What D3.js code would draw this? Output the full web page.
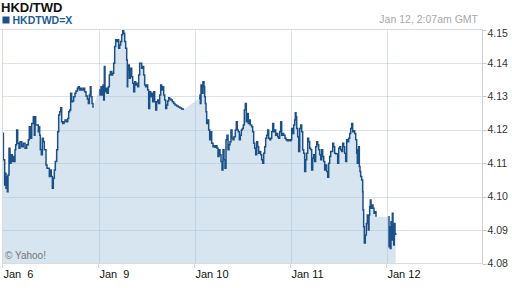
<!DOCTYPE html>
<html><head><meta charset="utf-8">
<script src="https://cdn.jsdelivr.net/npm/d3@7"></script>
<style>body{margin:0;background:#fff}svg{display:block;font-family:Arial,"Liberation Sans",sans-serif}</style>
</head><body><svg id="c" width="512" height="288"></svg>
<script>
// time axis: hours on a trading-day scale (Jan 6 = 0, Jan 9 = 24, Jan 10 = 48, Jan 11 = 72, Jan 12 = 96)
const hours = [
0,0.1,0.25,0.42,0.58,0.75,0.92,1.08,1.25,1.5,1.75,2,2.33,2.58,2.83,3,3.17,3.42,3.67,4,
4.25,4.67,5.08,5.5,5.92,6.33,6.58,6.92,7.17,7.58,7.83,8,8.17,8.42,8.83,9.08,9.17,9.33,9.58,9.83,
10.08,10.33,10.75,11,11.33,11.58,11.83,12.08,12.33,12.58,12.83,13.08,13.42,13.67,13.92,14.17,14.42,14.67,14.92,15.25,
15.5,15.92,16.17,16.42,16.67,16.92,17.17,17.42,17.67,18,18.25,18.58,18.83,19.08,19.33,19.67,20.08,20.42,20.75,21.08,
21.33,21.58,21.83,22,22.25,22.5,
23.25,
24,24.25,24.5,24.67,25,25.17,25.33,25.5,25.75,26,26.33,26.58,26.83,27.17,27.42,27.67,27.92,28.17,28.42,28.67,
28.92,29.17,29.42,29.67,29.92,30.17,30.42,30.67,30.92,31.08,31.17,31.33,31.58,31.83,32.17,32.42,32.67,32.92,33.17,33.42,
33.67,33.92,34.17,34.42,34.67,34.92,35.17,35.42,35.67,35.92,36.17,36.42,36.67,36.92,37.17,37.42,37.67,37.92,38.17,38.42,
38.67,38.92,39.17,39.42,39.67,39.92,40.17,40.42,40.67,40.92,41.17,41.42,41.67,42,42.33,42.67,43,43.42,43.83,44.25,
44.67,45.08,
47,
49,49.25,49.33,49.5,49.75,50,50.25,50.42,50.58,50.75,50.92,51.17,51.42,51.67,51.92,52.17,52.5,52.75,53,53.25,
53.5,53.75,54,54.25,54.5,54.75,55,55.25,55.5,55.75,56,56.25,56.5,56.75,57,57.25,57.5,57.75,58.08,58.33,
58.58,58.83,59.08,59.33,59.58,59.83,60.08,60.33,60.58,60.83,61.08,61.33,61.58,61.83,62.17,62.42,62.67,62.92,63.17,63.42,
63.67,63.92,64.17,64.42,64.67,64.92,65.17,65.42,65.67,65.92,66.17,66.42,66.67,66.92,67.17,67.42,67.67,67.92,68.17,68.42,
68.67,68.92,69.17,69.42,69.67,69.92,70.17,70.5,70.75,71.08,71.33,71.75,72,72.17,72.42,72.67,72.92,73.08,73.25,73.42,
73.67,73.92,74.17,74.42,74.67,74.92,75.17,75.42,75.67,75.92,76.17,76.42,76.67,76.92,77.17,77.42,77.67,77.92,78.17,78.42,
78.67,78.92,79.17,79.42,79.67,79.92,80.17,80.42,80.67,80.92,81.17,81.42,81.67,81.92,82.17,82.42,82.67,82.92,83.17,83.42,
83.67,83.92,84.17,84.42,84.67,84.92,85.17,85.42,85.67,85.92,86.17,86.42,86.67,86.92,87.17,87.42,87.67,87.92,88.17,88.42,
88.58,88.75,88.92,89.08,89.25,89.42,89.67,89.92,90,90.17,90.33,90.58,90.83,91.08,91.33,91.5,91.67,91.83,92,92.25,
92.5,92.75,93,93.25,
94.8,
96.33,96.5,96.67,96.83,97,97.17,97.33,97.5,97.67,97.83,98,98.17
];
// HKD/TWD rate; null = no quotes (line break)
const rates = [
4.1190,4.1110,4.1110,4.1035,4.1070,4.1025,4.1060,4.1015,4.1065,4.1145,4.1100,4.1125,4.1105,4.1120,4.1105,4.1140,4.1155,4.1199,4.1160,4.1145,
4.1164,4.1149,4.1160,4.1145,4.1155,4.1170,4.1209,4.1175,4.1219,4.1239,4.1184,4.1239,4.1214,4.1214,4.1194,4.1209,4.1184,4.1140,4.1125,4.1175,
4.1164,4.1140,4.1095,4.1085,4.1085,4.1060,4.1080,4.1060,4.1025,4.1055,4.1080,4.1105,4.1140,4.1194,4.1244,4.1254,4.1266,4.1224,4.1219,4.1224,
4.1229,4.1224,4.1234,4.1254,4.1259,4.1309,4.1284,4.1286,4.1299,4.1309,4.1316,4.1324,4.1329,4.1319,4.1324,4.1319,4.1324,4.1314,4.1301,4.1292,
4.1279,4.1304,4.1329,4.1299,4.1279,4.1266,
null,
4.1319,4.1304,4.1329,4.1304,4.1334,4.1289,4.1389,4.1314,4.1324,4.1309,4.1329,4.1364,4.1374,4.1364,4.1369,4.1399,4.1449,4.1469,4.1464,4.1469,
4.1444,4.1454,4.1464,4.1484,4.1496,4.1489,4.1464,4.1444,4.1409,4.1329,4.1379,4.1394,4.1354,4.1384,4.1359,4.1339,4.1314,4.1344,4.1334,4.1339,
4.1329,4.1364,4.1399,4.1399,4.1384,4.1389,4.1364,4.1334,4.1329,4.1334,4.1319,4.1264,4.1314,4.1299,4.1309,4.1284,4.1314,4.1284,4.1259,4.1284,
4.1289,4.1279,4.1304,4.1334,4.1319,4.1329,4.1304,4.1289,4.1264,4.1274,4.1286,4.1296,4.1292,4.1289,4.1284,4.1279,4.1274,4.1271,4.1268,4.1265,
4.1262,4.1259,
null,
4.1294,4.1304,4.1279,4.1334,4.1309,4.1344,4.1329,4.1299,4.1279,4.1254,4.1219,4.1229,4.1199,4.1170,4.1194,4.1160,4.1149,4.1152,4.1148,4.1152,
4.1145,4.1120,4.1140,4.1125,4.1105,4.1080,4.1140,4.1110,4.1085,4.1170,4.1184,4.1140,4.1155,4.1164,4.1199,4.1175,4.1170,4.1179,4.1199,4.1224,
4.1199,4.1194,4.1170,4.1184,4.1199,4.1204,4.1214,4.1259,4.1279,4.1224,4.1249,4.1219,4.1229,4.1214,4.1209,4.1194,4.1160,4.1145,4.1125,4.1164,
4.1149,4.1130,4.1135,4.1125,4.1110,4.1100,4.1130,4.1149,4.1175,4.1184,4.1199,4.1175,4.1170,4.1175,4.1194,4.1219,4.1194,4.1199,4.1184,4.1189,
4.1179,4.1175,4.1194,4.1224,4.1184,4.1189,4.1184,4.1175,4.1170,4.1167,4.1170,4.1167,4.1170,4.1204,4.1189,4.1214,4.1229,4.1251,4.1239,4.1204,
4.1179,4.1135,4.1204,4.1214,4.1194,4.1140,4.1130,4.1075,4.1110,4.1130,4.1175,4.1164,4.1145,4.1140,4.1080,4.1115,4.1125,4.1105,4.1149,4.1164,
4.1155,4.1140,4.1125,4.1110,4.1140,4.1120,4.1105,4.1080,4.1095,4.1075,4.1058,4.1100,4.1120,4.1135,4.1135,4.1160,4.1149,4.1130,4.1128,4.1128,
4.1100,4.1145,4.1149,4.1140,4.1135,4.1160,4.1149,4.1130,4.1105,4.1170,4.1164,4.1175,4.1189,4.1204,4.1219,4.1194,4.1197,4.1189,4.1170,4.1130,
4.1100,4.1140,4.1149,4.1090,4.1075,4.1060,4.1050,4.1015,4.0960,4.0910,4.0861,4.0885,4.0920,4.0945,4.0900,4.0945,4.0970,4.0990,4.0965,4.0975,
4.0965,4.0950,4.0955,4.0940,
null,
4.0940,4.0850,4.0910,4.0845,4.0925,4.0870,4.0950,4.0900,4.0855,4.0920,4.0890,4.0885
];
const yTicks = [4.08,4.09,4.10,4.11,4.12,4.13,4.14,4.15];
const xTickHours = [0,24,48,72,96];
const xTickLabels = ["Jan\u00a0\u00a06","Jan\u00a0\u00a09","Jan 10","Jan 11","Jan 12"];
const title = "HKD/TWD", symbol = "HKDTWD=X", stamp = "Jan 12, 2:07am GMT", credit = "\u00a9 Yahoo!";

const data = hours.map((h,i)=>({h, v: rates[i]}));
const svg = d3.select("#c");
const x = d3.scaleLinear().domain([0,120]).range([3,483]);
const y = d3.scaleLinear().domain([4.08,4.15]).range([263.5,29.5]);
const L = x(0)-0.5, R = x(120)-0.5, T = y(4.15), B = y(4.08);

// area (all quoted points, connected across gaps)
const area = d3.area().x(d=>x(d.h)).y0(B).y1(d=>y(d.v));
svg.append("path").datum(data.filter(d=>d.v!=null)).attr("d",area).attr("fill","#d6e5f0");

// grid
const g = svg.append("g");
g.selectAll("line.h").data(yTicks.slice(1,-1)).join("line")
  .attr("x1",L).attr("x2",R).attr("y1",d=>Math.round(y(d))+0.5).attr("y2",d=>Math.round(y(d))+0.5)
  .attr("stroke","#9fb6cf").attr("stroke-opacity",0.38);
g.selectAll("line.v").data(xTickHours.slice(1)).join("line")
  .attr("x1",d=>Math.round(x(d))+0.5).attr("x2",d=>Math.round(x(d))+0.5).attr("y1",T).attr("y2",B)
  .attr("stroke","#9fb6cf").attr("stroke-opacity",0.38);

// line
const line = d3.line().defined(d=>d.v!=null).x(d=>x(d.h)).y(d=>y(d.v)).curve(d3.curveStepAfter);
svg.append("path").datum(data).attr("d",line).attr("fill","none")
  .attr("stroke","#1c5089").attr("stroke-width",1.5).attr("stroke-linejoin","miter");

// frame
svg.append("line").attr("x1",0).attr("x2",R).attr("y1",T).attr("y2",T).attr("stroke","#dcdcdc");
svg.append("line").attr("x1",L).attr("x2",L).attr("y1",T).attr("y2",B).attr("stroke","#dcdcdc");
svg.append("line").attr("x1",L).attr("x2",R).attr("y1",B).attr("y2",B).attr("stroke","#dcdcdc");
svg.append("line").attr("x1",R).attr("x2",R).attr("y1",T).attr("y2",B).attr("stroke","#d0d0d0");

// right axis
const ya = svg.append("g");
ya.selectAll("line").data(yTicks).join("line")
  .attr("x1",R).attr("x2",R+4).attr("y1",d=>Math.round(y(d))+0.5).attr("y2",d=>Math.round(y(d))+0.5).attr("stroke","#c8c8c8");
ya.selectAll("text").data(yTicks).join("text")
  .attr("x",R+5).attr("y",d=>Math.max(y(d),33.5)).attr("dy","0.35em")
  .attr("font-size",10.5).attr("fill","#333").text(d=>d3.format(".2f")(d));

// bottom axis
const xa = svg.append("g");
xa.selectAll("line").data(xTickHours).join("line")
  .attr("x1",d=>Math.round(x(d))-0.5).attr("x2",d=>Math.round(x(d))-0.5).attr("y1",B).attr("y2",B+4).attr("stroke","#d0d0d0");
xa.selectAll("text").data(xTickHours).join("text")
  .attr("x",d=>x(d)+0.5).attr("y",278).attr("font-size",11).attr("fill","#111")
  .text((d,i)=>xTickLabels[i]);

// header
svg.append("text").attr("x",1).attr("y",12).attr("font-size",13).attr("font-weight","bold").attr("fill","#111").text(title);
svg.append("rect").attr("x",2.5).attr("y",16.5).attr("width",7).attr("height",7).attr("fill","#1c5089");
svg.append("text").attr("x",12.5).attr("y",24).attr("font-size",10.5).attr("font-weight","bold").attr("fill","#1c5a98").text(symbol);
svg.append("text").attr("x",478).attr("y",23).attr("text-anchor","end").attr("font-size",10.5).attr("fill","#a8a8a8").text(stamp);
svg.append("text").attr("x",5).attr("y",258.5).attr("font-size",10).attr("fill","#777").text(credit);
</script></body></html>
